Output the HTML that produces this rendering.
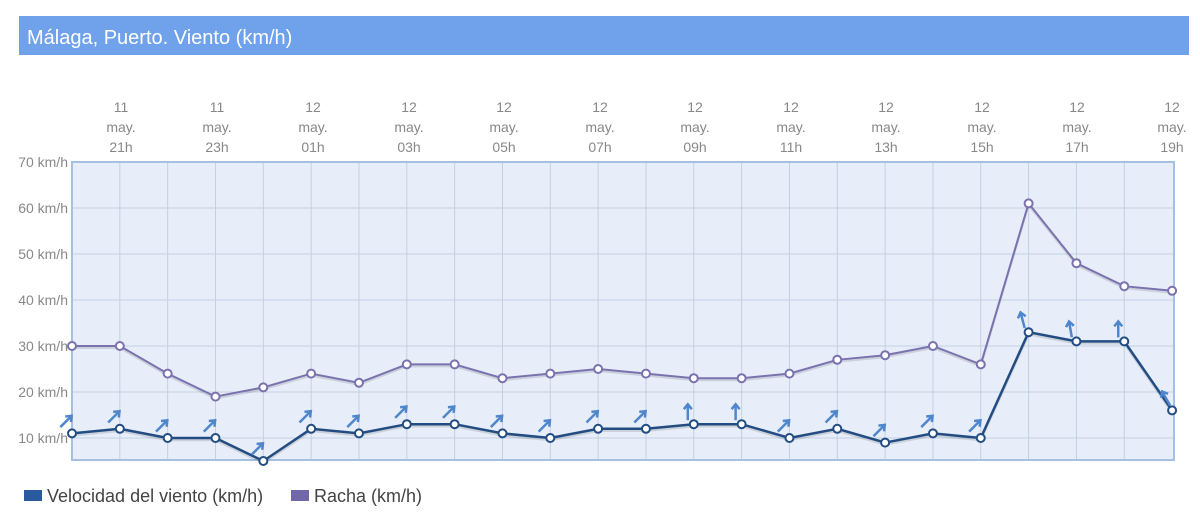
<!DOCTYPE html>
<html><head><meta charset="utf-8"><style>
body{margin:0;background:#fff;width:1200px;height:513px;overflow:hidden;font-family:"Liberation Sans",sans-serif}
</style></head><body>
<svg width="1200" height="513" xmlns="http://www.w3.org/2000/svg" font-family="Liberation Sans, sans-serif">
<rect x="19" y="16" width="1170" height="39" fill="#6fa2ea"/>
<text x="27" y="44" font-size="20" fill="#fff">Málaga, Puerto. Viento (km/h)</text>
<rect x="72" y="162" width="1102" height="298" fill="#e7eefa" stroke="#a6c0e2" stroke-width="2"/>
<g id="grid" stroke="#c3d0e3" stroke-width="1"></g>
<g font-size="14" fill="#888" text-anchor="end">
<text x="68" y="167">70 km/h</text><text x="68" y="213">60 km/h</text><text x="68" y="259">50 km/h</text>
<text x="68" y="305">40 km/h</text><text x="68" y="351">30 km/h</text><text x="68" y="397">20 km/h</text>
<text x="68" y="443">10 km/h</text>
</g>
<g font-size="14" fill="#888" text-anchor="middle">
<text x="121" y="112">11</text><text x="121" y="132">may.</text><text x="121" y="152">21h</text>
<text x="217" y="112">11</text><text x="217" y="132">may.</text><text x="217" y="152">23h</text>
<text x="313" y="112">12</text><text x="313" y="132">may.</text><text x="313" y="152">01h</text>
<text x="409" y="112">12</text><text x="409" y="132">may.</text><text x="409" y="152">03h</text>
<text x="504" y="112">12</text><text x="504" y="132">may.</text><text x="504" y="152">05h</text>
<text x="600" y="112">12</text><text x="600" y="132">may.</text><text x="600" y="152">07h</text>
<text x="695" y="112">12</text><text x="695" y="132">may.</text><text x="695" y="152">09h</text>
<text x="791" y="112">12</text><text x="791" y="132">may.</text><text x="791" y="152">11h</text>
<text x="886" y="112">12</text><text x="886" y="132">may.</text><text x="886" y="152">13h</text>
<text x="982" y="112">12</text><text x="982" y="132">may.</text><text x="982" y="152">15h</text>
<text x="1077" y="112">12</text><text x="1077" y="132">may.</text><text x="1077" y="152">17h</text>
<text x="1172" y="112">12</text><text x="1172" y="132">may.</text><text x="1172" y="152">19h</text>
</g>
<g id="series"></g>
<rect x="24" y="490" width="18" height="11" fill="#2a5a9e"/>
<text x="47" y="502" font-size="18" fill="#444">Velocidad del viento (km/h)</text>
<rect x="291" y="490" width="18" height="11" fill="#7068a8"/>
<text x="314" y="502" font-size="18" fill="#444">Racha (km/h)</text>
</svg>
<script>
var NS="http://www.w3.org/2000/svg";
function el(t,a,p){var e=document.createElementNS(NS,t);for(var k in a)e.setAttribute(k,a[k]);p.appendChild(e);return e;}
var X=function(i){return 72+i*47.83}, Y=function(v){return 162+(70-v)*4.6};
var g=document.getElementById('grid');
for(var i=1;i<23;i++)el('line',{x1:X(i),x2:X(i),y1:163,y2:459},g);
[60,50,40,30,20,10].forEach(function(v){el('line',{x1:73,x2:1173,y1:Y(v),y2:Y(v)},g);});
var sp=[11,12,10,10,5,12,11,13,13,11,10,12,12,13,13,10,12,9,11,10,33,31,31,16];
var gu=[30,30,24,19,21,24,22,26,26,23,24,25,24,23,23,24,27,28,30,26,61,48,43,42];
var ang=[45,45,45,45,45,45,45,45,45,45,45,45,45,0,0,45,45,45,45,45,-15,-10,0,-30];
var s=document.getElementById('series');
function line(d,c,w){var p=d.map(function(v,i){return X(i)+','+Y(v)}).join(' ');
 el('polyline',{points:p.split(' ').map(function(q){var a=q.split(',');return a[0]+','+(+a[1]+2)}).join(' '),fill:'none',stroke:'rgba(0,0,0,0.12)','stroke-width':w},s);
 el('polyline',{points:p,fill:'none',stroke:c,'stroke-width':w},s);
 d.forEach(function(v,i){el('circle',{cx:X(i),cy:Y(v),r:4,fill:'#fff',stroke:c,'stroke-width':2},s);});}
line(gu,'#7a72ae',2);
line(sp,'#234d82',2.5);
sp.forEach(function(v,i){var cx=X(i)-6,cy=Y(v)-12;
 var gg=el('g',{transform:'translate('+cx+','+cy+') rotate('+ang[i]+')'},s);
 el('line',{x1:0,y1:8,x2:0,y2:-7,stroke:'#4f86cc','stroke-width':2.5},gg);
 el('polyline',{points:'-4,-3 0,-8 4,-3',fill:'none',stroke:'#4f86cc','stroke-width':2.5},gg);});
</script>
</body></html>
